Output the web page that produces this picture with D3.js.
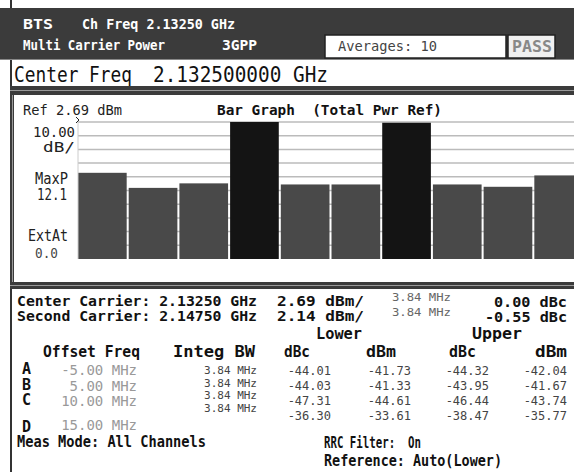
<!DOCTYPE html>
<html>
<head>
<meta charset="utf-8">
<script src="https://cdn.jsdelivr.net/npm/d3@7"></script>
<style>
  body { margin: 0; background: #fff; }
  svg { display: block; font-family: "DejaVu Sans Mono", monospace; }
  text { white-space: pre; }
</style>
</head>
<body>
<svg id="screen"></svg>
<script>
// bar graph data: offset from center carrier (MHz) and measured power (dBm)
const barOffsets = ["-15", "-10", "-5", "0", "5", "10", "15", "20", "25", "30"];
const barPower = [-34.4, -45.4, -42.1, 2.69, -42.9, -42.9, 2.14, -42.9, -44.6, -36.3];
const carrierOffsets = ["0", "15"];
const refLevel = 2.69;
const dbPerDiv = 10;
const divisions = [0, 1, 2, 3, 4, 5, 6, 7, 8, 9];

// result table
const offsetLabels = ["A", "B", "C", "D"];
const offsetFreqs = ["-5.00 MHz", "5.00 MHz", "10.00 MHz", "15.00 MHz"];
const integBW = ["3.84 MHz", "3.84 MHz", "3.84 MHz", "3.84 MHz"];
const lowerDbc = ["-44.01", "-44.03", "-47.31", "-36.30"];
const lowerDbm = ["-41.73", "-41.33", "-44.61", "-33.61"];
const upperDbc = ["-44.32", "-43.95", "-46.44", "-38.47"];
const upperDbm = ["-42.04", "-41.67", "-43.74", "-35.77"];

const width = 574, height = 472;
const svg = d3.select("#screen").attr("width", width).attr("height", height);

// text helper, x0..x1 is the span the string takes on screen
function txt(str, x0, x1, y, o = {}) {
    const t = svg.append("text")
        .attr("x", o.anchor === "end" ? x1 : x0)
        .attr("y", y)
        .attr("text-anchor", o.anchor || "start")
        .style("font-size", (o.size || 14) + "px")
        .style("font-weight", o.bold ? "bold" : "normal")
        .attr("fill", o.fill || "#111")
        .text(str);
    if (x1 != null) t.attr("textLength", x1 - x0).attr("lengthAdjust", "spacingAndGlyphs");
    return t;
}

// ---- frame ----
svg.append("rect").attr("x", 0).attr("y", 8).attr("width", width).attr("height", 51).attr("fill", "#3b3b3b");
svg.append("rect").attr("x", 0).attr("y", 59).attr("width", width).attr("height", 1).attr("fill", "#888");
svg.append("rect").attr("x", 10).attr("y", 0).attr("width", 2).attr("height", 8).attr("fill", "#333");
svg.append("rect").attr("x", 10).attr("y", 60).attr("width", 2).attr("height", height - 60).attr("fill", "#333");
svg.append("rect").attr("x", 10).attr("y", 86).attr("width", width).attr("height", 9).attr("fill", "#3b3b3b");
svg.append("rect").attr("x", 10).attr("y", 90).attr("width", width).attr("height", 1).attr("fill", "#999");
svg.append("rect").attr("x", 10).attr("y", 282).attr("width", width).attr("height", 7).attr("fill", "#3b3b3b");
svg.append("rect").attr("x", 10).attr("y", 285).attr("width", width).attr("height", 1).attr("fill", "#999");
svg.append("rect").attr("x", 10).attr("y", 95).attr("width", 4).attr("height", 187).attr("fill", "#3b3b3b");
svg.append("rect").attr("x", 12).attr("y", 95).attr("width", 1).attr("height", 187).attr("fill", "#999");

// ---- header ----
txt("BTS", 23, 53, 29, { fill: "#fff", bold: true, size: 14 });
txt("Ch Freq 2.13250 GHz", 82, 235, 29, { fill: "#fff", bold: true, size: 14 });
txt("Multi Carrier Power", 23, 165, 50, { fill: "#fff", bold: true, size: 14 });
txt("3GPP", 222, 257, 50, { fill: "#fff", bold: true, size: 14 });
svg.append("rect").attr("x", 325).attr("y", 35).attr("width", 181).attr("height", 23)
    .attr("fill", "#fff").attr("stroke", "#222").attr("stroke-width", 1.5);
txt("Averages: 10", 338, 437, 51, { fill: "#444", size: 14 });
svg.append("rect").attr("x", 508).attr("y", 35).attr("width", 47).attr("height", 23)
    .attr("fill", "#f0f0f0").attr("stroke", "#222").attr("stroke-width", 1.5);
txt("PASS", 512, 552, 52, { fill: "#888", bold: true, size: 15 });

txt("Center Freq", 14, 132, 82, { size: 22 });
txt("2.132500000 GHz", 153, 328, 82, { size: 22 });

// ---- bar graph ----
const plotTop = 122, plotBottom = 259;
const x = d3.scaleBand().domain(barOffsets).range([78, 583]).paddingInner(0.04).paddingOuter(0);
const y = d3.scaleLinear().domain([refLevel - dbPerDiv * 10, refLevel]).range([plotBottom, plotTop]);

svg.append("g")
    .selectAll("line")
    .data(divisions)
    .join("line")
    .attr("x1", 78).attr("x2", width)
    .attr("y1", d => y(refLevel - d * dbPerDiv))
    .attr("y2", d => y(refLevel - d * dbPerDiv))
    .attr("stroke", "#bbb")
    .attr("stroke-width", 1.5);

svg.append("g")
    .selectAll("rect")
    .data(barOffsets)
    .join("rect")
    .attr("x", d => x(d))
    .attr("width", x.bandwidth())
    .attr("y", (d, i) => y(barPower[i]))
    .attr("height", (d, i) => plotBottom - y(barPower[i]))
    .attr("fill", d => carrierOffsets.includes(d) ? "#141414" : "#494949");

svg.append("line").attr("x1", 78).attr("x2", 78).attr("y1", plotTop).attr("y2", plotBottom)
    .attr("stroke", "#ccc").attr("stroke-width", 1);
svg.append("path").attr("d", "M76,117 L79,120 L76,123").attr("fill", "none").attr("stroke", "#222").attr("stroke-width", 1);

txt("Ref 2.69 dBm", 23, 122, 115, { size: 14.5, fill: "#222" });
txt("Bar Graph  (Total Pwr Ref)", 217, 442, 115, { size: 14.5, bold: true });
txt("10.00", 33, 75, 137, { size: 14, fill: "#222" });
txt("dB/", 43, 75, 152, { size: 14, fill: "#222" });
txt("MaxP", 35, 68, 184, { size: 15, fill: "#222" });
txt("12.1", 37, 67, 200, { size: 15, fill: "#222" });
txt("ExtAt", 28, 68, 241, { size: 15, fill: "#222" });
txt("0.0", 35, 58, 258, { size: 14, fill: "#444" });

// ---- results ----
txt("Center Carrier: 2.13250 GHz", 17, 257, 306, { bold: true, size: 14.5 });
txt("Second Carrier: 2.14750 GHz", 17, 257, 321, { bold: true, size: 14.5 });
txt("2.69 dBm/", 277, 364, 306, { bold: true, size: 14.5 });
txt("2.14 dBm/", 277, 364, 321, { bold: true, size: 14.5 });
txt("3.84 MHz", 392, 451, 301, { size: 11, fill: "#666" });
txt("3.84 MHz", 392, 451, 316, { size: 11, fill: "#666" });
txt("0.00 dBc", 494, 567, 307, { bold: true, size: 14.5 });
txt("-0.55 dBc", 485, 567, 322, { bold: true, size: 14.5 });
txt("Lower", 316, 362, 339, { bold: true, size: 16 });
txt("Upper", 472, 522, 339, { bold: true, size: 16 });

txt("Offset Freq", 43, 140, 357, { bold: true, size: 16 });
txt("Integ BW", 173, 255, 357, { bold: true, size: 16 });
txt("dBc", 284, 310, 357, { bold: true, size: 16 });
txt("dBm", 366, 396, 357, { bold: true, size: 16 });
txt("dBc", 449, 476, 357, { bold: true, size: 16 });
txt("dBm", 535, 567, 357, { bold: true, size: 16 });

const letterY = [374, 390, 405, 432];
const freqY = [375, 391, 406, 430];
const bwY = [374, 387, 399, 412];
const valY = [375, 390, 405, 420];

svg.append("g").selectAll("text").data(offsetLabels).join("text")
    .attr("x", 22).attr("y", (d, i) => letterY[i])
    .style("font-size", "15px").style("font-weight", "bold").attr("fill", "#111")
    .text(d => d);
svg.append("g").selectAll("text").data(offsetFreqs).join("text")
    .attr("x", 137).attr("y", (d, i) => freqY[i]).attr("text-anchor", "end")
    .style("font-size", "14px").attr("fill", "#999")
    .text(d => d);
svg.append("g").selectAll("text").data(integBW).join("text")
    .attr("x", 257).attr("y", (d, i) => bwY[i]).attr("text-anchor", "end")
    .style("font-size", "11px").attr("fill", "#444")
    .text(d => d);

const valueCols = [[lowerDbc, 331], [lowerDbm, 411], [upperDbc, 489], [upperDbm, 567]];
valueCols.forEach(([col, right]) => {
    svg.append("g").selectAll("text").data(col).join("text")
        .attr("x", right).attr("y", (d, i) => valY[i]).attr("text-anchor", "end")
        .style("font-size", "12px").attr("fill", "#444")
        .text(d => d);
});

txt("Meas Mode: All Channels", 17, 206, 447, { bold: true, size: 16 });
txt("RRC Filter:  On", 324, 421, 448, { bold: true, size: 16 });
txt("Reference: Auto(Lower)", 324, 502, 466, { bold: true, size: 16 });
</script>
</body>
</html>
